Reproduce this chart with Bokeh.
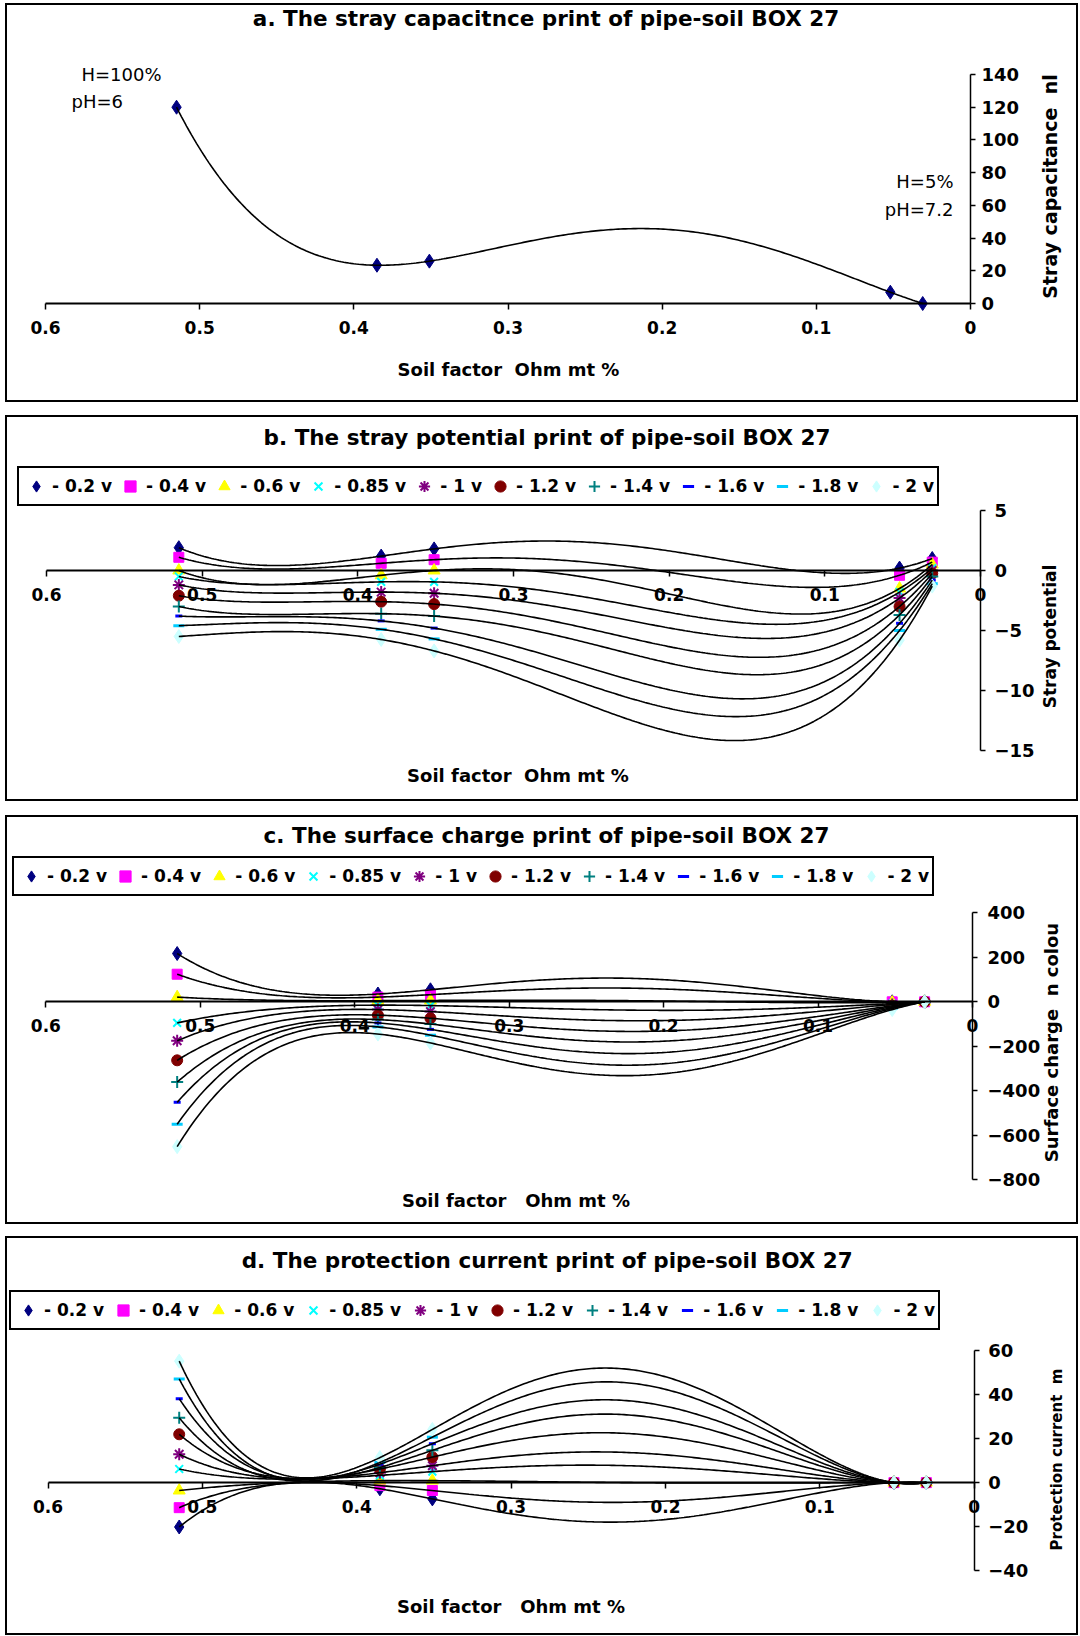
import math
import numpy as np
from bokeh.plotting import figure
from bokeh.layouts import column
from bokeh.models import (Range1d, LinearAxis, FixedTicker, NumeralTickFormatter,
                          Legend, LegendItem, Label)
from bokeh.embed import file_html
from bokeh.resources import INLINE

# ---------------- data ----------------
soil_x = [0.515, 0.385, 0.351, 0.052, 0.031]

cap_a = [120, 23.4, 25.9, 6.9, 0]

volt_labels = ["- 0.2 v", "- 0.4 v", "- 0.6 v", "- 0.85 v", "- 1 v",
               "- 1.2 v", "- 1.4 v", "- 1.6 v", "- 1.8 v", "- 2 v"]

pot_b = [
    [1.9, 1.2, 1.8, 0.2, 1.0],
    [1.1, 0.6, 0.9, -0.4, 0.7],
    [0.0, -0.4, 0.0, -1.5, 0.5],
    [-0.5, -0.95, -0.95, -1.8, 0.2],
    [-1.2, -1.8, -1.9, -2.3, 0.0],
    [-2.1, -2.6, -2.8, -3.0, -0.25],
    [-3.0, -3.6, -3.8, -3.7, -0.5],
    [-3.8, -4.2, -4.8, -4.4, -0.8],
    [-4.6, -4.9, -5.7, -5.0, -1.1],
    [-5.5, -5.75, -6.7, -5.8, -1.3],
]

charge_c = [
    [217, 35, 54, 0, 0],
    [124, 21, 32, 0, 0],
    [21, 5, 6, -3, 0],
    [-95, -15, -17, -8, 0],
    [-175, -35, -44, -12, 0],
    [-263, -60, -74, -18, 0],
    [-361, -80, -100, -22, 0],
    [-452, -95, -124, -26, 0],
    [-550, -113, -150, -30, 0],
    [-651, -145, -185, -35, 0],
]

current_d = [
    [-20.2, -2.8, -7.4, 0, 0],
    [-11.4, -1.35, -3.6, 0, 0],
    [-3.6, 0.9, 0.9, 0, 0],
    [6.2, 3.3, 5.0, 0, 0],
    [12.9, 4.5, 7.7, 0, 0],
    [22.0, 6.2, 11.6, 0, 0],
    [29.5, 6.9, 14.7, 0, 0],
    [38.2, 8.4, 17.7, 0, 0],
    [47.2, 9.2, 20.7, 0, 0],
    [55.3, 11.4, 24.2, 0, 0],
]

x_ticks = [0, 0.1, 0.2, 0.3, 0.4, 0.5, 0.6]

# ---------------- style ----------------
FONT = "DejaVu Sans"
NB = "\u00a0"
W = 1073
MARKERS = [
    ("diamond", "#000080", 14, 1),
    ("square", "#FF00FF", 10, 1),
    ("triangle", "#FFFF00", 12, 1),
    ("x", "#00FFFF", 11, 2),
    ("asterisk", "#800080", 12, 2),
    ("circle", "#800000", 11, 1),
    ("cross", "#008080", 12, 2),
    ("dash", "#0000FF", 7, 3),
    ("dash", "#00CCFF", 11, 3),
    ("diamond", "#CCFFFF", 14, 1),
]


class Panel:
    """A figure whose frame fills the whole bordered box; px are measured
    from the box's top-left corner."""

    def __init__(self, H, xcal, ycal, top_gap):
        (px1, xv1, px2, xv2) = xcal
        (py1, yv1, py2, yv2) = ycal
        self.sx = (xv2 - xv1) / (px2 - px1)
        self.x0 = xv1 - px1 * self.sx
        self.sy = (yv2 - yv1) / (py2 - py1)
        self.y0 = yv1 - py1 * self.sy
        self.H = H
        p = figure(width=W, height=H,
                   x_range=Range1d(self.x0, self.x0 + W * self.sx),
                   y_range=Range1d(self.y0 + H * self.sy, self.y0),
                   x_axis_type=None, y_axis_type=None, output_backend="svg",
                   toolbar_location=None, title_location=None,
                   min_border_left=0, min_border_right=0,
                   min_border_top=0, min_border_bottom=0)
        p.outline_line_color = None
        p.background_fill_color = "white"
        p.border_fill_color = "white"
        p.styles = {"border": "2px solid black"}
        p.margin = (top_gap, 0, 0, 5)
        self.p = p

    def X(self, px):
        return self.x0 + px * self.sx

    def Y(self, py):
        return self.y0 + py * self.sy

    def text(self, px, py, txt, size, bold=True, align="center", angle=0.0):
        self.p.add_layout(Label(x=self.X(px), y=self.Y(py), text=txt, text_align=align,
                                text_baseline="middle", angle=angle, text_font=FONT,
                                text_font_size=size,
                                text_font_style="bold" if bold else "normal",
                                text_color="black"))

    def axes(self, yticks, ybounds, ytick_standoff):
        p = self.p
        xa = LinearAxis(fixed_location=0, ticker=FixedTicker(ticks=x_ticks),
                        formatter=NumeralTickFormatter(format="0.[0]"), bounds=(0, 0.6))
        xa.major_label_text_font = FONT
        xa.major_label_text_font_style = "bold"
        xa.major_label_text_font_size = "17px"
        xa.major_label_text_color = "black"
        xa.major_tick_out = 6
        xa.major_tick_in = 0
        xa.minor_tick_out = 0
        xa.minor_tick_in = 0
        xa.axis_line_width = 2
        xa.major_tick_line_width = 1.5
        xa.major_label_standoff = 11
        p.add_layout(xa, "below")

        ya = LinearAxis(fixed_location=0, ticker=FixedTicker(ticks=yticks), bounds=ybounds)
        ya.major_label_text_font = FONT
        ya.major_label_text_font_style = "bold"
        ya.major_label_text_font_size = "18px"
        ya.major_label_text_color = "black"
        ya.major_tick_out = 5
        ya.major_tick_in = 0
        ya.minor_tick_out = 0
        ya.minor_tick_in = 0
        ya.axis_line_width = 1.5
        ya.major_tick_line_width = 1.5
        ya.major_label_standoff = ytick_standoff
        p.add_layout(ya, "right")

    def series(self, data, legend_left, legend_bottom, spacing=4):
        p = self.p
        items = []
        for lab, ys, (mk, col, sz, lw) in zip(volt_labels, data, MARKERS):
            r = p.scatter(soil_x, ys, marker=mk, size=sz, fill_color=col,
                          line_color=col, line_width=lw)
            items.append(LegendItem(label=lab, renderers=[r]))
        xs = np.linspace(max(soil_x), min(soil_x), 300)
        for ys in data:
            coef = np.polyfit(soil_x, ys, 4)
            p.line(xs, np.polyval(coef, xs), line_color="black", line_width=1.6)
        leg = Legend(items=items, orientation="horizontal",
                     location=(legend_left, self.H - legend_bottom),
                     border_line_color="black", border_line_width=2,
                     border_line_alpha=1.0,
                     label_text_font=FONT, label_text_font_style="bold",
                     label_text_font_size="17px", label_text_color="black",
                     glyph_width=28, glyph_height=30,
                     label_height=30, label_standoff=2, spacing=spacing, padding=3,
                     margin=0, background_fill_color="white", background_fill_alpha=1)
        p.add_layout(leg)


# ---------------- panel a ----------------
A = Panel(399, (38, 0.6, 963, 0.0), (69, 140, 298, 0), 3)
A.axes([0, 20, 40, 60, 80, 100, 120, 140], (0, 140), 6)
A.p.scatter(soil_x, cap_a, marker="diamond", size=14, fill_color="#000080",
            line_color="#000080")
xs_a = np.linspace(max(soil_x), min(soil_x), 300)
A.p.line(xs_a, np.polyval(np.polyfit(soil_x, cap_a, 4), xs_a), line_color="black",
         line_width=1.6)
A.text(538.5, 13, "a. The stray capacitnce print of pipe-soil BOX 27", "21.5px")
A.text(74, 69, "H=100%", "18px", bold=False, align="left")
A.text(64, 95.7, "pH=6", "18px", bold=False, align="left")
A.text(946, 175.7, "H=5%", "18px", bold=False, align="right")
A.text(946, 204, "pH=7.2", "18px", bold=False, align="right")
A.text(501, 364, "Soil factor" + NB + " Ohm mt %", "18px")
A.text(1042.5, 181, "Stray capacitance" + NB + " nl", "19px", angle=math.pi / 2)

# ---------------- panel b ----------------
B = Panel(386, (39, 0.6, 973, 0.0), (93, 5, 333, -15), 13)
B.axes([-15, -10, -5, 0, 5], (-15, 5), 9)
B.series(pot_b, 10, 89)
B.text(539.5, 20, "b. The stray potential print of pipe-soil BOX 27", "21.5px")
B.text(510.5, 358, "Soil factor" + NB + " Ohm mt %", "18px")
B.text(1042.5, 219, "Stray potential", "17px", angle=math.pi / 2)

# ---------------- panel c ----------------
C = Panel(409, (38.4, 0.6, 965, 0.0), (95.3, 400, 362.3, -800), 14)
C.axes([-800, -600, -400, -200, 0, 200, 400], (-800, 400), 10)
C.series(charge_c, 5, 79)
C.text(539, 18, "c. The surface charge print of pipe-soil BOX 27", "21.5px")
C.text(508.5, 383, "Soil factor" + NB + NB + " Ohm mt %", "18px")
C.text(1044, 225, "Surface charge" + NB + " n colou", "18px", angle=math.pi / 2)

# ---------------- panel d ----------------
D = Panel(399, (40.5, 0.6, 966.7, 0.0), (112.3, 60, 332, -40), 12)
D.axes([-40, -20, 0, 20, 40, 60], (-40, 60), 9)
D.series(current_d, 2, 91.7, spacing=5)
D.text(539.7, 22, "d. The protection current print of pipe-soil BOX 27", "21.5px")
D.text(503.5, 368, "Soil factor" + NB + NB + " Ohm mt %", "18px")
D.text(1049, 221, "Protection current" + NB + " m", "15px", angle=math.pi / 2)

layout = column(A.p, B.p, C.p, D.p, spacing=0)
open("out.html", "w").write(file_html(layout, INLINE))
